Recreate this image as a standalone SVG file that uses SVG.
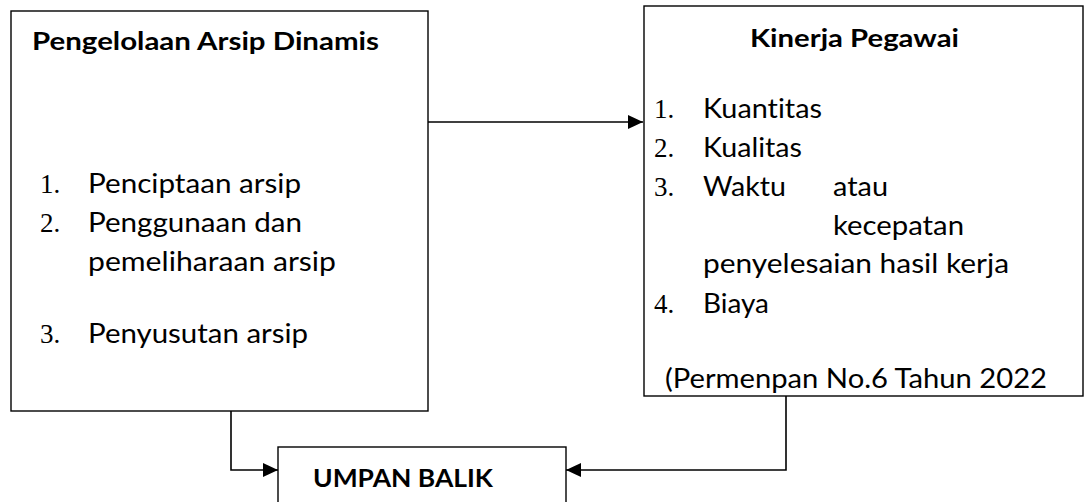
<svg xmlns="http://www.w3.org/2000/svg" width="1084" height="502" viewBox="0 0 1084 502">
<style>
.box{fill:#fff;stroke:#000;stroke-width:1.4}
.t{font-family:Lato,"Open Sans",sans-serif;font-size:27px;fill:#000;font-variant-ligatures:none}
.b{font-family:Lato,"Open Sans",sans-serif;font-size:25px;font-weight:bold;fill:#000;font-variant-ligatures:none}
.n{font-family:"Liberation Serif",serif;font-size:27px;fill:#000}
.c{fill:none;stroke:#000;stroke-width:1.6}
</style>
<defs>
<marker id="ah" markerUnits="userSpaceOnUse" markerWidth="16" markerHeight="16" refX="15" refY="7" orient="auto">
<path d="M0,0 L15,7 L0,14 Z" fill="#000"/>
</marker>
</defs>
<rect width="1084" height="502" fill="#fff"/>
<g id="node-pengelolaan">
<rect class="box" x="11" y="11" width="417" height="400"/>
<text class="b" x="32" y="50" textLength="347" lengthAdjust="spacingAndGlyphs">Pengelolaan Arsip Dinamis</text>
<text class="n" x="40" y="193">1.</text>
<text class="t" x="88" y="193" textLength="213" lengthAdjust="spacingAndGlyphs">Penciptaan arsip</text>
<text class="n" x="40" y="232">2.</text>
<text class="t" x="88" y="232" textLength="214" lengthAdjust="spacingAndGlyphs">Penggunaan dan</text>
<text class="t" x="88" y="271" textLength="248" lengthAdjust="spacingAndGlyphs">pemeliharaan arsip</text>
<text class="n" x="40" y="343">3.</text>
<text class="t" x="88" y="343" textLength="220" lengthAdjust="spacingAndGlyphs">Penyusutan arsip</text>
</g>
<g id="node-kinerja">
<rect class="box" x="644" y="6" width="439" height="390"/>
<text class="b" x="750" y="47" textLength="209" lengthAdjust="spacingAndGlyphs">Kinerja Pegawai</text>
<text class="n" x="654" y="118">1.</text>
<text class="t" x="703" y="118" textLength="119" lengthAdjust="spacingAndGlyphs">Kuantitas</text>
<text class="n" x="654" y="157">2.</text>
<text class="t" x="703" y="157" textLength="99" lengthAdjust="spacingAndGlyphs">Kualitas</text>
<text class="n" x="654" y="196">3.</text>
<text class="t" x="703" y="196" textLength="83" lengthAdjust="spacingAndGlyphs">Waktu</text>
<text class="t" x="833" y="196" textLength="55" lengthAdjust="spacingAndGlyphs">atau</text>
<text class="t" x="833" y="235" textLength="131" lengthAdjust="spacingAndGlyphs">kecepatan</text>
<text class="t" x="703" y="273" textLength="306" lengthAdjust="spacingAndGlyphs">penyelesaian hasil kerja</text>
<text class="n" x="654" y="313">4.</text>
<text class="t" x="703" y="313" textLength="66" lengthAdjust="spacingAndGlyphs">Biaya</text>
<text class="t" x="665" y="388" textLength="382" lengthAdjust="spacingAndGlyphs">(Permenpan No.6 Tahun 2022</text>
</g>
<g id="node-umpan-balik">
<rect class="box" x="278" y="447" width="288" height="70"/>
<text class="b" x="313" y="487" font-size="28" textLength="180" lengthAdjust="spacingAndGlyphs">UMPAN BALIK</text>
</g>
<g id="connectors">
<path class="c" d="M428,122 H643" marker-end="url(#ah)"/>
<path class="c" d="M231,411 V470 H278" marker-end="url(#ah)"/>
<path class="c" d="M786,396 V470 H566" marker-end="url(#ah)"/>
</g>
</svg>
